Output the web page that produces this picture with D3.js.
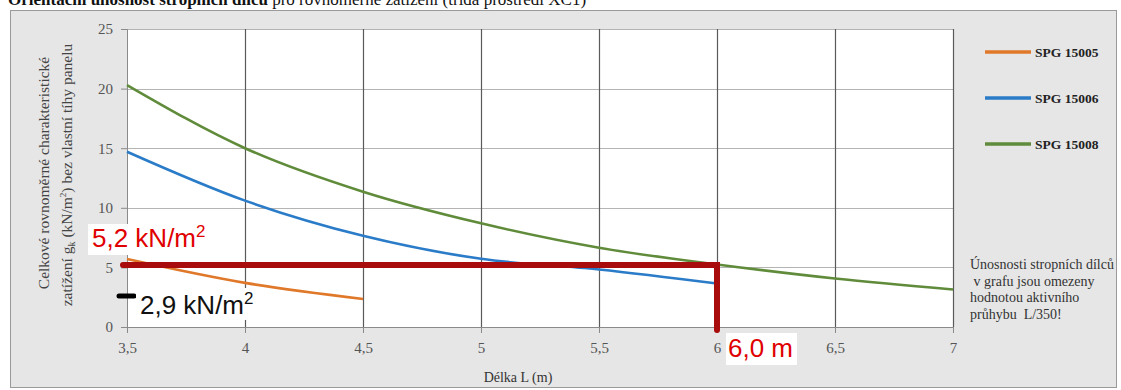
<!DOCTYPE html>
<html><head><meta charset="utf-8">
<script src="https://cdn.jsdelivr.net/npm/d3@7"></script>
<style>
html,body{margin:0;padding:0;background:#fff;}
svg{display:block;}
</style></head>
<body>
<svg id="c" width="1121" height="390"></svg>
<script>
const xTicks = [3.5, 4, 4.5, 5, 5.5, 6, 6.5, 7];
const xTickLabels = ["3,5", "4", "4,5", "5", "5,5", "6", "6,5", "7"];
const yTicks = [0, 5, 10, 15, 20, 25];
const seriesNames = ["SPG 15005", "SPG 15006", "SPG 15008"];
const lengths15005 = [3.5, 4, 4.5];
const values15005 = [5.7, 3.7, 2.35];
const lengths15006 = [3.5, 4, 4.5, 5, 5.5, 6];
const values15006 = [14.7, 10.6, 7.65, 5.72, 4.83, 3.65];
const lengths15008 = [3.5, 4, 4.5, 5, 5.5, 6, 6.5, 7];
const values15008 = [20.3, 15.0, 11.35, 8.7, 6.65, 5.25, 4.07, 3.15];
const limitLoad = 5.2;
const limitLength = 6.0;
const markLoad = 2.6;
const noteLines = ["Únosnosti stropních dílců", " v grafu jsou omezeny", "hodnotou aktivního", "průhybu  L/350!"];

const colors = ["#e0782a", "#2a7bc8", "#5f8b3a"];
const serif = "'Liberation Serif','Times New Roman',serif";
const sans = "'Liberation Sans',Arial,sans-serif";

const svg = d3.select("#c");
// title (cut off at the top, as in the source)
const title = svg.append("text").attr("x", 8).attr("y", 5).attr("font-family", serif).attr("font-size", 17).attr("fill", "#111");
title.append("tspan").attr("font-weight", "bold").text("Orientační únosnost stropních dílců");
title.append("tspan").text(" pro rovnoměrné zatížení (třída prostředí XC1)");

// outer panel
svg.append("rect").attr("x", 10.5).attr("y", 10.5).attr("width", 1106).attr("height", 377)
  .attr("fill", "#e6e6e6").attr("stroke", "#9a9a9a").attr("stroke-width", 1);

const x = d3.scaleLinear().domain([3.5, 7]).range([127, 953]);
const y = d3.scaleLinear().domain([0, 25]).range([327, 29]);

svg.append("rect").attr("x", x(3.5)).attr("y", y(25)).attr("width", x(7) - x(3.5)).attr("height", y(0) - y(25)).attr("fill", "#fff");

// horizontal grid
svg.append("g").selectAll("line").data(yTicks.filter(d => d > 0)).join("line")
  .attr("x1", x(3.5)).attr("x2", x(7)).attr("y1", d => Math.round(y(d)) + 0.5).attr("y2", d => Math.round(y(d)) + 0.5)
  .attr("stroke", "#b4b4b4").attr("stroke-width", 1.2);
// vertical grid
svg.append("g").selectAll("line").data(xTicks.filter(d => d > 3.5)).join("line")
  .attr("x1", d => Math.round(x(d)) + 0.5).attr("x2", d => Math.round(x(d)) + 0.5).attr("y1", y(25)).attr("y2", y(0))
  .attr("stroke", "#5a5a5a").attr("stroke-width", 1.2);

// axes
const xAxis = d3.axisBottom(x).tickValues(xTicks).tickFormat((d, i) => xTickLabels[i]).tickSize(6).tickPadding(9);
const gx = svg.append("g").attr("transform", `translate(0,${y(0)})`).call(xAxis);
gx.select(".domain").attr("stroke", "#8a8a8a");
gx.selectAll(".tick line").attr("stroke", "#8a8a8a");
gx.selectAll("text").attr("font-family", serif).attr("font-size", 15).attr("fill", "#555");

const yAxis = d3.axisLeft(y).tickValues(yTicks).tickSize(6).tickPadding(8);
const gy = svg.append("g").attr("transform", `translate(${x(3.5)},0)`).call(yAxis);
gy.select(".domain").attr("stroke", "#8a8a8a");
gy.selectAll(".tick line").attr("stroke", "#8a8a8a");
gy.selectAll("text").attr("font-family", serif).attr("font-size", 15).attr("fill", "#555");

// series
const line = d3.line().x(d => x(d[0])).y(d => y(d[1])).curve(d3.curveMonotoneX);
const series = [
  d3.zip(lengths15005, values15005),
  d3.zip(lengths15006, values15006),
  d3.zip(lengths15008, values15008)
];
series.forEach((s, i) => {
  svg.append("path").datum(s).attr("d", line).attr("fill", "none")
    .attr("stroke", colors[i]).attr("stroke-width", 2.6).attr("stroke-linecap", "butt");
});

// annotation: red limit line
svg.append("path")
  .attr("d", d3.line()([[x(3.5) - 4, y(limitLoad)], [x(limitLength), y(limitLoad)], [x(limitLength), y(0) + 3]]))
  .attr("fill", "none").attr("stroke", "#a80c0c").attr("stroke-width", 6)
  .attr("stroke-linecap", "round").attr("stroke-linejoin", "miter");
// black marker
svg.append("line").attr("x1", x(3.5) - 8).attr("x2", x(3.5) + 7).attr("y1", y(markLoad)).attr("y2", y(markLoad))
  .attr("stroke", "#000").attr("stroke-width", 5).attr("stroke-linecap", "round");

function labelBox(bx, by, bw, bh, tx, ty, parts, color) {
  svg.append("rect").attr("x", bx).attr("y", by).attr("width", bw).attr("height", bh).attr("fill", "#fff");
  const t = svg.append("text").attr("x", tx).attr("y", ty).attr("font-family", sans).attr("font-size", 26).attr("fill", color);
  parts.forEach(p => {
    const ts = t.append("tspan").text(p.t);
    if (p.sup) ts.attr("font-size", 17).attr("dy", -10);
  });
}
labelBox(88, 224, 138, 31, 92, 247, [{t: "5,2 kN/m"}, {t: "2", sup: true}], "#e00000");
labelBox(136, 288, 124, 32, 140, 314, [{t: "2,9 kN/m"}, {t: "2", sup: true}], "#111");
labelBox(726, 333, 71, 32, 728, 357, [{t: "6,0 m"}], "#e00000");

// axis titles
const yt = svg.append("text").attr("transform", "translate(49,173) rotate(-90)").attr("text-anchor", "middle")
  .attr("font-family", serif).attr("font-size", 15.5).attr("fill", "#444");
yt.append("tspan").text("Celkové rovnoměrné charakteristické");
const yt2 = svg.append("text").attr("transform", "translate(72,175) rotate(-90)").attr("text-anchor", "middle")
  .attr("font-family", serif).attr("font-size", 15.5).attr("fill", "#444");
yt2.append("tspan").text("zatížení g");
yt2.append("tspan").attr("font-size", 10).attr("dy", 3).text("k");
yt2.append("tspan").attr("dy", -3).text(" (kN/m");
yt2.append("tspan").attr("font-size", 9).attr("dy", -6).text("2");
yt2.append("tspan").attr("dy", 6).text(") bez vlastní tíhy panelu");

svg.append("text").attr("x", 518).attr("y", 382).attr("text-anchor", "middle")
  .attr("font-family", serif).attr("font-size", 14).attr("fill", "#333").text("Délka L (m)");

// legend
const legendY = [52, 98, 144];
seriesNames.forEach((n, i) => {
  svg.append("line").attr("x1", 985).attr("x2", 1031).attr("y1", legendY[i]).attr("y2", legendY[i])
    .attr("stroke", colors[i]).attr("stroke-width", 3.4);
  svg.append("text").attr("x", 1035).attr("y", legendY[i] + 5).attr("font-family", serif)
    .attr("font-size", 13.5).attr("font-weight", "bold").attr("fill", "#222").text(n);
});

// note
const note = svg.append("text").attr("font-family", serif).attr("font-size", 14).attr("fill", "#333");
noteLines.forEach((l, i) => {
  note.append("tspan").attr("x", 970).attr("y", 269 + i * 16.7).style("white-space", "pre").text(l);
});
</script>
</body></html>
